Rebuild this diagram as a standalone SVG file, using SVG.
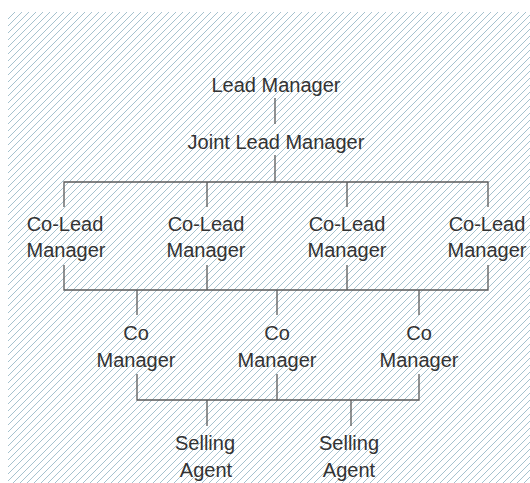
<svg xmlns="http://www.w3.org/2000/svg" width="530" height="483" viewBox="0 0 530 483">
  <defs>
    <pattern id="hatch" patternUnits="userSpaceOnUse" x="8" y="12" width="7" height="7">
      <path d="M-1,1 L1,-1 M0,7 L7,0 M6,8 L8,6" stroke="#a6c2ce" stroke-width="1" fill="none"/>
    </pattern>
    <style>
      .lbl { font-family: "Liberation Sans", Arial, sans-serif; font-size: 20px; fill: #333333; text-anchor: middle; }
      .conn { stroke: #5a5a5a; stroke-width: 1.3; fill: none; }
    </style>
  </defs>

  <rect width="530" height="483" fill="#ffffff"/>
  <rect x="8" y="12" width="522" height="471" fill="url(#hatch)"/>

  <g id="connectors" class="conn">
    <path d="M275,98 V124"/>
    <path d="M275,155 V182"/>
    <path d="M64,207 V182 H488 V207 M207,182 V207 M347,182 V207"/>
    <path d="M64,265 V290 H488 V265 M207,265 V290 M347,265 V290"/>
    <path d="M137,290 V315 M277,290 V315 M419,290 V315"/>
    <path d="M137,374 V400 H419 V374 M277,374 V400"/>
    <path d="M207,400 V426 M351,400 V426"/>
  </g>

  <g id="lead-manager"><text class="lbl" x="276" y="92">Lead Manager</text></g>
  <g id="joint-lead-manager"><text class="lbl" x="276" y="149">Joint Lead Manager</text></g>

  <g id="co-lead-1"><text class="lbl" x="65" y="231">Co-Lead</text><text class="lbl" x="66" y="257">Manager</text></g>
  <g id="co-lead-2"><text class="lbl" x="206" y="231">Co-Lead</text><text class="lbl" x="206" y="257">Manager</text></g>
  <g id="co-lead-3"><text class="lbl" x="347" y="231">Co-Lead</text><text class="lbl" x="347" y="257">Manager</text></g>
  <g id="co-lead-4"><text class="lbl" x="487" y="231">Co-Lead</text><text class="lbl" x="487" y="257">Manager</text></g>

  <g id="co-manager-1"><text class="lbl" x="136" y="340">Co</text><text class="lbl" x="136" y="367">Manager</text></g>
  <g id="co-manager-2"><text class="lbl" x="277" y="340">Co</text><text class="lbl" x="277" y="367">Manager</text></g>
  <g id="co-manager-3"><text class="lbl" x="419" y="340">Co</text><text class="lbl" x="419" y="367">Manager</text></g>

  <g id="selling-agent-1"><text class="lbl" x="205" y="450">Selling</text><text class="lbl" x="206" y="477">Agent</text></g>
  <g id="selling-agent-2"><text class="lbl" x="349" y="450">Selling</text><text class="lbl" x="349" y="477">Agent</text></g>
</svg>
